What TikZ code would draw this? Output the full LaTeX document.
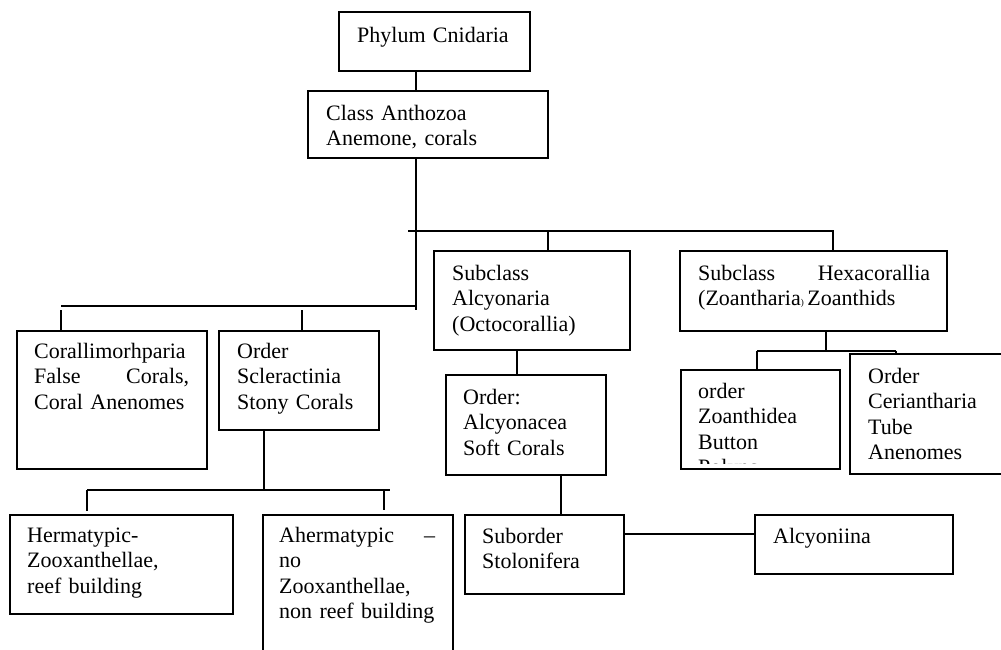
\documentclass[tikz,border=0pt]{standalone}
\usepackage{fontspec}
\setmainfont{Liberation Serif}
\tikzset{
	box/.style={draw, line width=1.1pt, inner sep=0pt, outer sep=0pt, anchor=north west},
	txt/.style={inner sep=0pt, anchor=base west, align=left, text width=300pt, font=\fontsize{22}{25.5}\selectfont},
	link/.style={line width=1.1pt}
}

\begin{document}
\begin{tikzpicture}[x=1pt,y=-1pt]
	\path[use as bounding box] (0,0) rectangle (1001,649);
	\clip (0,0) rectangle (1001,649);
	% boxes
	\node[box, minimum width=191pt, minimum height=59pt] (phylum) at (339,12) {};
	\node[box, minimum width=240pt, minimum height=67pt] (class) at (308,91) {};
	\node[box, minimum width=196pt, minimum height=99pt] (alcyonaria) at (434,251) {};
	\node[box, minimum width=267pt, minimum height=80pt] (hexa) at (680,251) {};
	\node[box, minimum width=190pt, minimum height=138pt] (coralli) at (17,331) {};
	\node[box, minimum width=160pt, minimum height=99pt] (sclera) at (219,331) {};
	\node[box, minimum width=160pt, minimum height=100pt] (alcyonacea) at (446,375) {};
	\node[box, minimum width=159pt, minimum height=99pt] (zoanth) at (681,370) {};
	\node[box, minimum width=170pt, minimum height=120pt] (ceri) at (850,354) {};
	\node[box, minimum width=223pt, minimum height=99pt] (hermat) at (10,515) {};
	\node[box, minimum width=190pt, minimum height=150pt] (aherm) at (263,515) {};
	\node[box, minimum width=159pt, minimum height=79pt] (stolon) at (465,515) {};
	\node[box, minimum width=198pt, minimum height=59pt] (alcyon) at (755,515) {};

	% texts
	\node[txt] (phylumtxt) at ([shift={(18,30)}]phylum.north west) {Phylum Cnidaria};
	\node[txt] (classtxt) at ([shift={(18,29)}]class.north west) {Class Anthozoa\\Anemone, corals};
	\node[txt] (alcyonariatxt) at ([shift={(18,29)}]alcyonaria.north west) {Subclass\\Alcyonaria\\(Octocorallia)};
	\node[txt, text width=232pt] (hexatxt) at ([shift={(18,29)}]hexa.north west)
		{Subclass\hfill Hexacorallia\\(Zoantharia{\fontsize{9}{9}\selectfont)}\,Zoanthids};
	\node[txt, text width=155pt] (corallitxt) at ([shift={(17,27)}]coralli.north west)
		{Corallimorhparia\\False\hfill Corals,\\Coral Anenomes};
	\node[txt] (scleratxt) at ([shift={(18,27)}]sclera.north west) {Order\\Scleractinia\\Stony Corals};
	\node[txt] (alcyonaceatxt) at ([shift={(17,29)}]alcyonacea.north west) {Order:\\Alcyonacea\\Soft Corals};
	\begin{scope}
		\clip (zoanth.north west) rectangle ([yshift=6pt]zoanth.south east);
		\node[txt] (zoanthtxt) at ([shift={(17,28)}]zoanth.north west) {order\\Zoanthidea\\Button\\Polyps};
	\end{scope}
	\node[txt] (ceritxt) at ([shift={(18,29)}]ceri.north west) {Order\\Ceriantharia\\Tube\\Anenomes};
	\node[txt] (hermattxt) at ([shift={(17,27)}]hermat.north west) {Hermatypic-\\Zooxanthellae,\\reef building};
	\node[txt, text width=156pt] (ahermtxt) at ([shift={(16,27)}]aherm.north west)
		{Ahermatypic\hfill --\\no\\Zooxanthellae,\\non reef building};
	\node[txt] (stolontxt) at ([shift={(17,28)}]stolon.north west) {Suborder\\Stolonifera};
	\node[txt] (alcyontxt) at ([shift={(18,28)}]alcyon.north west) {Alcyoniina};

	% connectors
	\coordinate (stem) at (416,310);
	\coordinate (upbar) at (408,231);
	\coordinate (lowbar) at (61,306);
	\coordinate (alcdrop) at (548,231);
	\coordinate (hexdrop) at (833,231);
	\coordinate (leftick) at (61,310);
	\coordinate (midtick) at (302,310);
	\draw[link] (phylum.south -| stem) -- (class.north -| stem);
	\draw[link] (class.south -| stem) -- (stem);
	\draw[link] (upbar) -- (hexdrop) -- (hexdrop |- hexa.north);
	\draw[link] (alcdrop) -- (alcdrop |- alcyonaria.north);
	\draw[link] (lowbar) -- (lowbar -| stem);
	\draw[link] (leftick) -- (leftick |- coralli.north);
	\draw[link] (midtick) -- (midtick |- sclera.north);

	\coordinate (octo) at (517,0);
	\draw[link] (octo |- alcyonaria.south) -- (octo |- alcyonacea.north);
	\coordinate (soft) at (561,0);
	\draw[link] (soft |- alcyonacea.south) -- (soft |- stolon.north);
	\draw[link] (stolon.east |- 0,534) -- (alcyon.west |- 0,534);

	\coordinate (hexfork) at (826,351);
	\draw[link] (hexfork |- hexa.south) -- (hexfork);
	\draw[link] (757,351) -- (896,351);
	\draw[link] (757,351) -- (757,0 |- zoanth.north);
	\draw[link] (896,351) -- (896,0 |- ceri.north);

	\coordinate (stonyfork) at (264,490);
	\draw[link] (stonyfork |- sclera.south) -- (stonyfork);
	\draw[link] (87,490) -- (390,490);
	\draw[link] (87,490) -- (87,511);
	\draw[link] (384,490) -- (384,510);
\end{tikzpicture}
\end{document}
